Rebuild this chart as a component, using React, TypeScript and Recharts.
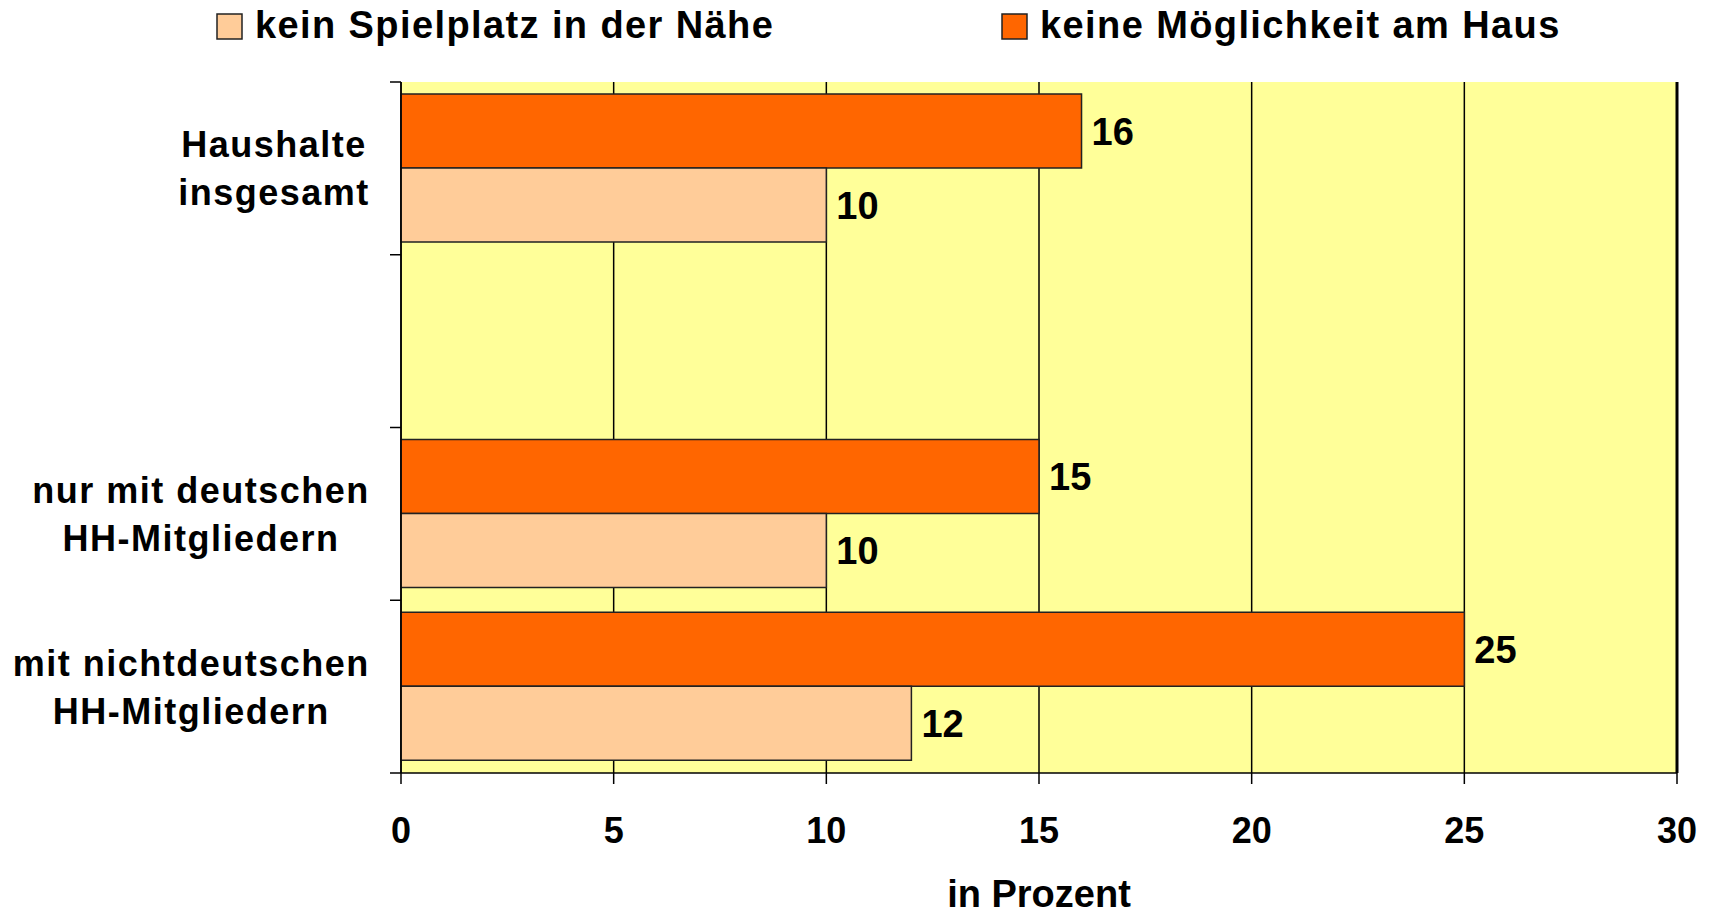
import { BarChart, Bar, XAxis, YAxis, CartesianGrid, LabelList, ReferenceLine } from "recharts";

const categories = [
  "Haushalte\ninsgesamt",
  "",
  "nur mit deutschen\nHH-Mitgliedern",
  "mit nichtdeutschen\nHH-Mitgliedern",
];
const keinSpielplatz = [10, null, 10, 12];
const keineMoeglichkeit = [16, null, 15, 25];
const xTicks = [0, 5, 10, 15, 20, 25, 30];
const seriesNames = ["kein Spielplatz in der Nähe", "keine Möglichkeit am Haus"];
const seriesColors = ["#FFCC99", "#FF6600"];

const data = categories.map((name, i) => ({
  name,
  spielplatz: keinSpielplatz[i],
  haus: keineMoeglichkeit[i],
}));

const FONT = '"Liberation Sans", Arial, sans-serif';
const W = 1712;
const H = 916;
const MARGIN = { top: 82, right: 35, bottom: 0, left: 0 };
const X_AXIS_H = 143;
const PLOT_H = H - MARGIN.top - MARGIN.bottom - X_AXIS_H;

let ctx: CanvasRenderingContext2D | null = null;
function measure(text: string, size: number, spacing: number) {
  if (!ctx) ctx = document.createElement("canvas").getContext("2d");
  if (!ctx) return text.length * size * 0.55;
  ctx.font = `bold ${size}px ${FONT}`;
  return ctx.measureText(text).width + spacing * (text.length - 1);
}

function CategoryTick(props: any) {
  const { x, y, payload, index } = props;
  const half = payload.offset || PLOT_H / categories.length / 2;
  const lines = String(payload.value).split("\n").filter(Boolean);
  const maxW = Math.max(0, ...lines.map((l) => measure(l, 36, 1.5)));
  const cx = x - 32 - maxW / 2;
  return (
    <g>
      <line x1={x - 11} x2={x} y1={y - half} y2={y - half} stroke="#000" strokeWidth={1.5} />
      {index === categories.length - 1 && (
        <line x1={x - 11} x2={x} y1={y + half} y2={y + half} stroke="#000" strokeWidth={1.5} />
      )}
      <text
        textAnchor="middle"
        fontFamily={FONT}
        fontWeight="bold"
        fontSize={36}
        letterSpacing={1.5}
        fill="#000"
      >
        {lines.map((l, i) => (
          <tspan key={i} x={cx} y={y + (i - (lines.length - 1) / 2) * 48} dy="0.36em">
            {l}
          </tspan>
        ))}
      </text>
    </g>
  );
}

function LegendOverlay() {
  const items = [
    { x: 217, tx: 255 },
    { x: 1002, tx: 1040 },
  ];
  return (
    <svg width={W} height={80} style={{ position: "absolute", left: 0, top: 0 }}>
      {items.map((it, i) => (
        <g key={i}>
          <rect x={it.x} y={14} width={25} height={25} fill={seriesColors[i]} stroke="#222" strokeWidth={1.5} />
          <text
            x={it.tx}
            y={38}
            fontFamily={FONT}
            fontWeight="bold"
            fontSize={38}
            letterSpacing={1.4}
            fill="#000"
          >
            {seriesNames[i]}
          </text>
        </g>
      ))}
    </svg>
  );
}

export default function App() {
  const labelStyle = { fontFamily: FONT, fontWeight: "bold", fontSize: 38, fill: "#000" };
  return (
    <div style={{ position: "absolute", left: 0, top: 0, width: W, height: H, background: "#fff" }}>
      <BarChart
        width={W}
        height={H}
        data={data}
        layout="vertical"
        margin={MARGIN}
        barCategoryGap="7%"
        barGap={0}
      >
        <CartesianGrid horizontal={false} stroke="#000" strokeWidth={1.5} fill="#FFFF99" fillOpacity={1} />
        <XAxis
          type="number"
          domain={[0, 30]}
          ticks={xTicks}
          height={X_AXIS_H}
          tickSize={11}
          tickMargin={33}
          axisLine={{ stroke: "#000", strokeWidth: 1.5 }}
          tickLine={{ stroke: "#000", strokeWidth: 1.5 }}
          tick={{ fontFamily: FONT, fontWeight: "bold", fontSize: 36, fill: "#000" }}
          label={{ value: "in Prozent", position: "insideBottom", offset: 9, style: labelStyle }}
        />
        <XAxis
          xAxisId="top"
          orientation="top"
          type="number"
          domain={[0, 30]}
          height={0}
          tick={false}
          tickLine={false}
          axisLine={{ stroke: "#000", strokeWidth: 1.5 }}
        />
        <YAxis
          type="category"
          dataKey="name"
          width={401}
          tickSize={0}
          tickMargin={0}
          tickLine={false}
          interval={0}
          axisLine={{ stroke: "#000", strokeWidth: 1.5 }}
          tick={<CategoryTick />}
        />
        <ReferenceLine x={30} stroke="#000" strokeWidth={3} />
        <Bar dataKey="haus" fill={seriesColors[1]} stroke="#222" strokeWidth={1.5} isAnimationActive={false}>
          <LabelList dataKey="haus" position="right" offset={10} style={labelStyle} />
        </Bar>
        <Bar dataKey="spielplatz" fill={seriesColors[0]} stroke="#222" strokeWidth={1.5} isAnimationActive={false}>
          <LabelList dataKey="spielplatz" position="right" offset={10} style={labelStyle} />
        </Bar>
      </BarChart>
      <LegendOverlay />
    </div>
  );
}
